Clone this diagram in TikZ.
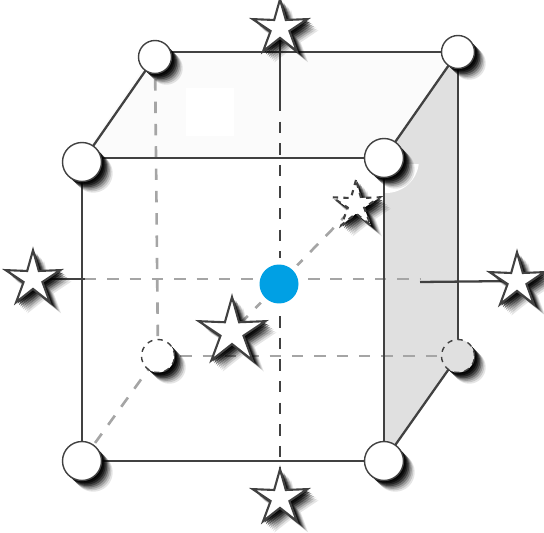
\documentclass[tikz,border=0pt]{standalone}
\usepackage{tikz}
\usetikzlibrary{shapes.geometric,shadows}
\definecolor{atomblue}{RGB}{0,160,228}
\definecolor{facegray}{RGB}{224,224,224}
\definecolor{toplight}{RGB}{251,251,251}
\definecolor{edgegray}{RGB}{65,65,65}
\definecolor{dashgray}{RGB}{165,165,165}
\tikzset{
    softshadow/.style={
        general shadow={fill=black,opacity=0.10,shadow xshift=6.4pt,shadow yshift=-6.4pt},
        general shadow={fill=black,opacity=0.14,shadow xshift=5.6pt,shadow yshift=-5.6pt},
        general shadow={fill=black,opacity=0.20,shadow xshift=4.8pt,shadow yshift=-4.8pt},
        general shadow={fill=black,opacity=0.28,shadow xshift=4.0pt,shadow yshift=-4.0pt},
        general shadow={fill=black,opacity=0.38,shadow xshift=3.2pt,shadow yshift=-3.2pt},
        general shadow={fill=black,opacity=0.50,shadow xshift=2.4pt,shadow yshift=-2.4pt},
        general shadow={fill=black,opacity=0.65,shadow xshift=1.6pt,shadow yshift=-1.6pt},
        general shadow={fill=black,opacity=0.75,shadow xshift=0.8pt,shadow yshift=-0.8pt}},
    bigatom/.style={circle,draw=edgegray,line width=0.8pt,fill=white,minimum size=0.78cm,inner sep=0pt,softshadow},
    smallatom/.style={circle,draw=edgegray,line width=0.8pt,fill=white,minimum size=0.66cm,inner sep=0pt,softshadow},
    guest/.style={star,star points=5,star point ratio=2.9,draw=edgegray,line width=1.2pt,fill=white,inner sep=0pt,minimum size=1.15cm,softshadow},
    edge/.style={edgegray,line width=1.3pt},
    hidden/.style={dashgray,line width=1.5pt,dash pattern=on 6.5pt off 6.2pt},
    axisdash/.style={edgegray,line width=1.3pt,dash pattern=on 6.5pt off 5.8pt}
}
\begin{document}
\begin{tikzpicture}[x=0.02cm,y=-0.02cm]
    \useasboundingbox (0,0) rectangle (544,533);

    % faces of the cube
    \fill[toplight] (155,51) -- (458,51) -- (384,158) -- (82,158) -- cycle;
    \fill[white] (186,88) rectangle (234,136);
    \fill[facegray] (385,158) -- (458,52) -- (458,356) -- (385,460) -- cycle;
    \begin{scope}
        \clip (384,165) rectangle (420,195);
        \fill[white] (386,160) circle (33);
    \end{scope}

    % corner positions
    \coordinate (ftl) at (82,162);
    \coordinate (ftr) at (384,158);
    \coordinate (fbl) at (82,461);
    \coordinate (fbr) at (384,461);
    \coordinate (btl) at (155,57);
    \coordinate (btr) at (458,52);
    \coordinate (bbl) at (158,356);
    \coordinate (bbr) at (458,356);
    \coordinate (center) at (279,284);

    % free ends of the axes
    \coordinate (topend) at (280,100);
    \coordinate (leftend) at (85,279);
    \coordinate (rightend) at (420,279);
    \coordinate (rightsolid) at (420,282);

    % guest star positions
    \coordinate (topstar) at (280,28);
    \coordinate (leftstar) at (33,279);
    \coordinate (rightstar) at (517,281);
    \coordinate (botstar) at (280,498);
    \coordinate (frontstar) at (232,332);
    \coordinate (backstar) at (356,205);

    % hidden edges
    \draw[hidden] (btl) -- (bbl);
    \draw[hidden] (bbl) -- (bbr);
    \draw[hidden] (fbl) -- (bbl);
    \draw[hidden] (leftend) -- (rightend);
    \draw[hidden] (center) -- (backstar);
    \draw[hidden] (center) -- (frontstar);

    % visible edges
    \draw[edge] (82,158) -- (ftr);
    \draw[edge] (btl |- btr) -- (btr);
    \draw[edge] (ftl) -- (btl);
    \draw[edge] (ftr) -- (btr);
    \draw[edge] (ftl) -- (fbl);
    \draw[edge] (ftr) -- (fbr);
    \draw[edge] (btr) -- (bbr);
    \draw[edge] (fbl) -- (fbr);
    \draw[edge] (fbr) -- (bbr);

    % axes
    \draw[edge] (topstar) -- (topend);
    \draw[axisdash] (topend) -- (botstar);
    \draw[edge] (leftstar) -- (leftend);
    \draw[edge] (rightsolid) -- (rightstar);

    % corner atoms
    \node[bigatom] (a1) at (ftl) {};
    \node[bigatom] (a2) at (ftr) {};
    \node[bigatom] (a3) at (fbl) {};
    \node[bigatom] (a4) at (fbr) {};
    \node[smallatom] (a5) at (btl) {};
    \node[smallatom] (a6) at (btr) {};
    \node[smallatom,dashed] (a7) at (bbl) {};
    \node[smallatom,fill=facegray,dashed] (a8) at (bbr) {};

    % guest stars
    \node[guest] (s1) at (topstar) {};
    \node[guest] (s2) at (leftstar) {};
    \node[guest] (s3) at (rightstar) {};
    \node[guest] (s4) at (botstar) {};
    \node[guest,minimum size=1.4cm] (s5) at (frontstar) {};
    \node[guest,minimum size=1.0cm,dashed] (s6) at (backstar) {};

    % central atom
    \fill[white] (center) circle (26);
    \node[circle,fill=atomblue,minimum size=0.78cm,inner sep=0pt] (c) at (center) {};
\end{tikzpicture}
\end{document}
